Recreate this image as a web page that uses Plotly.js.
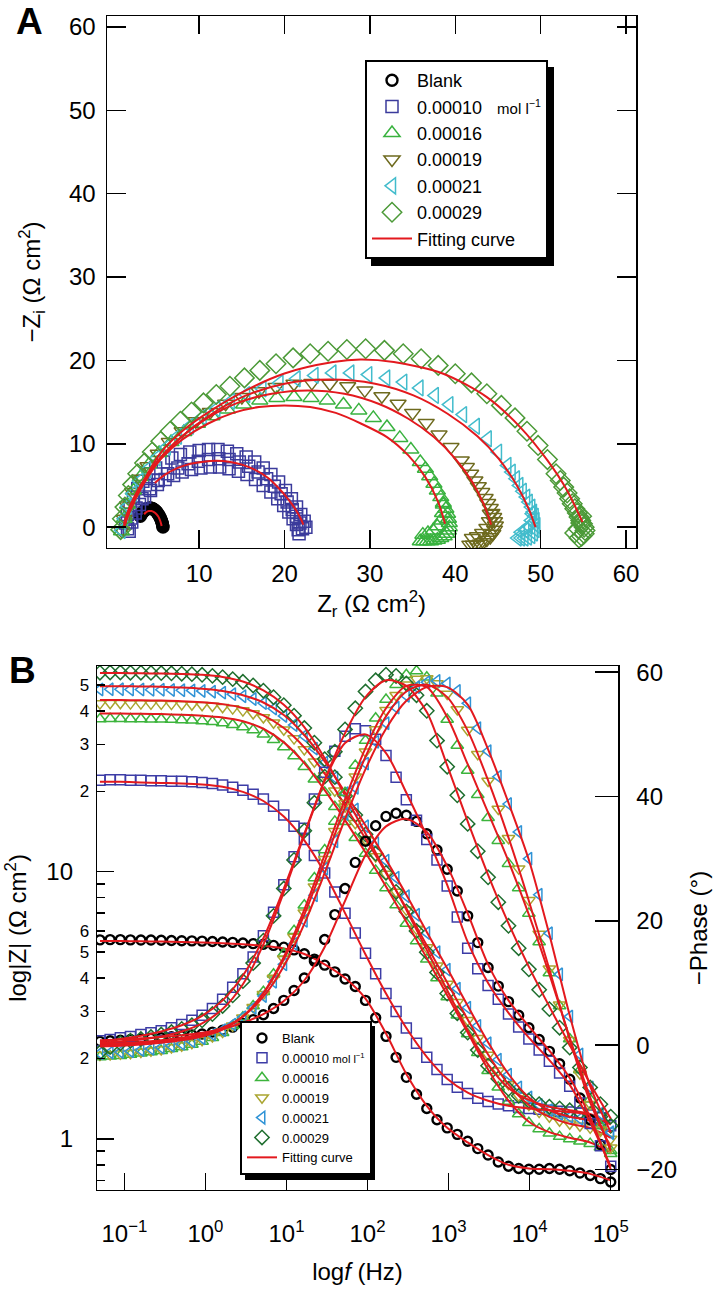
<!DOCTYPE html>
<html>
<head>
<meta charset="utf-8">
<script src="https://cdn.plot.ly/plotly-3.0.1.min.js"></script>
<style>
  html, body { margin: 0; padding: 0; background: #fff; }
  #chart { width: 723px; height: 1293px; }
</style>
</head>
<body>
<div id="chart"></div>
<script>
// ---------- series ----------
const names = ['Blank', '0.00010', '0.00016', '0.00019', '0.00021', '0.00029'];

// ---------- panel A : Nyquist (Ω cm²) ----------
const nyqBlankZr = [3.1, 3.2, 3.3, 3.4, 3.5, 3.6, 3.7, 3.8, 3.9, 4.0, 4.1, 4.2, 4.3, 4.4, 4.5, 4.6, 4.7, 4.8, 4.9, 5.0,
                    5.1, 5.2, 5.3, 5.4, 5.48, 5.55, 5.62, 5.67, 5.71, 5.74, 5.76];
const nyqBlankZi = [1.3, 1.5, 1.65, 1.8, 1.9, 2.0, 2.08, 2.15, 2.2, 2.24, 2.27, 2.28, 2.28, 2.26, 2.23, 2.18, 2.12, 2.04, 1.95, 1.84,
                    1.71, 1.56, 1.39, 1.2, 1.02, 0.84, 0.64, 0.46, 0.29, 0.13, 0.0];

const nyqNavyZr = [1.4, 1.6, 1.9, 2.3, 2.8, 3.4, 4.1, 4.9, 5.8, 6.8, 7.8, 8.9, 10.0, 11.1, 12.2, 13.3, 14.4, 15.5, 16.5, 17.5, 18.4, 19.3, 20.1, 20.8, 21.4, 21.9, 22.3, 22.5,
                   1.8, 2.1, 2.5, 3.0, 3.6, 4.3, 5.1, 6.0, 7.0, 8.0, 9.1, 10.2, 11.3, 12.4, 13.5, 14.6, 15.6, 16.6, 17.5, 18.4, 19.2, 19.9, 20.5, 21.0, 21.4, 21.6, 21.7,
                   1.6, 2.0, 2.6, 3.3, 4.2, 5.2, 6.3, 7.5, 8.7, 9.9, 11.1, 12.3, 13.5, 14.7, 15.8, 16.9, 17.9, 18.8, 19.6, 20.3, 20.9, 21.4, 21.8, 22.1];
const nyqNavyZi = [0.5, 1.5, 2.6, 3.6, 4.6, 5.5, 6.4, 7.1, 7.8, 8.3, 8.7, 9.0, 9.2, 9.3, 9.3, 9.1, 8.8, 8.4, 7.8, 7.1, 6.3, 5.4, 4.4, 3.4, 2.4, 1.5, 0.7, 0.0,
                   -0.5, 0.6, 1.7, 2.7, 3.6, 4.4, 5.1, 5.7, 6.2, 6.6, 6.9, 7.1, 7.2, 7.2, 7.0, 6.7, 6.3, 5.7, 5.0, 4.2, 3.4, 2.6, 1.8, 1.0, 0.3, -0.3, -0.8,
                   -0.2, 1.1, 2.3, 3.4, 4.6, 5.6, 6.4, 7.1, 7.6, 7.9, 8.1, 8.2, 8.1, 7.8, 7.3, 6.6, 5.8, 4.9, 4.0, 3.0, 2.1, 1.3, 0.5, -0.2];

const nyqGreenZr = [0.9, 1.2, 1.6, 2.3, 3.1, 4.1, 5.3, 6.7, 8.2, 9.8, 11.5, 13.3, 15.2, 17.1, 19.1, 21.1, 23.1, 25.0, 26.9, 28.7, 30.4, 32.0, 33.5, 34.8, 35.9,
                    36.5, 37.0, 37.5, 37.9, 38.3, 38.6, 38.9, 39.1, 39.2, 39.3, 39.3, 39.2, 39.0, 38.7, 38.3, 37.9, 37.5, 37.1, 36.7, 36.3, 35.9,
                    36.2, 36.8, 37.4, 37.9, 38.3, 38.5, 38.6];
const nyqGreenZi = [-0.5, 1.0, 2.7, 4.4, 6.0, 7.5, 8.9, 10.2, 11.4, 12.4, 13.3, 14.1, 14.7, 15.2, 15.5, 15.6, 15.5, 15.2, 14.7, 14.0, 13.1, 12.0, 10.7, 9.3, 7.8,
                    7.0, 6.1, 5.2, 4.4, 3.6, 2.9, 2.2, 1.6, 1.0, 0.5, 0.0, -0.4, -0.8, -1.1, -1.3, -1.5, -1.6, -1.7, -1.7, -1.7, -1.7,
                    -0.9, -0.7, -0.4, 0.1, 0.8, 1.7, 2.7];

const nyqOliveZr = [0.9, 1.2, 1.6, 2.2, 3.0, 4.0, 5.2, 6.5, 8.0, 9.6, 11.3, 13.1, 15.0, 17.0, 19.0, 21.1, 23.2, 25.3, 27.4, 29.4, 31.4, 33.3, 35.0, 36.6, 38.1, 39.5, 40.7,
                    41.3, 41.8, 42.3, 42.7, 43.1, 43.5, 43.8, 44.1, 44.3, 44.5, 44.6, 44.7, 44.6, 44.4, 44.1, 43.7, 43.3, 42.9, 42.5, 42.1, 41.7,
                    42.0, 42.6, 43.2, 43.7, 44.0, 44.1];
const nyqOliveZi = [-0.4, 1.0, 2.6, 4.2, 5.8, 7.3, 8.8, 10.2, 11.5, 12.7, 13.8, 14.8, 15.6, 16.3, 16.8, 17.2, 17.3, 17.2, 16.9, 16.4, 15.7, 14.8, 13.7, 12.5, 11.1, 9.6, 8.0,
                    7.2, 6.4, 5.6, 4.9, 4.2, 3.5, 2.9, 2.3, 1.7, 1.2, 0.7, 0.2, -0.3, -0.8, -1.2, -1.5, -1.8, -2.0, -2.1, -2.1, -2.1,
                    -1.3, -1.1, -0.7, -0.1, 0.7, 1.6];

const nyqCyanZr = [0.9, 1.2, 1.6, 2.2, 3.0, 3.9, 5.0, 6.2, 7.5, 8.9, 10.4, 12.0, 13.7, 15.5, 17.4, 19.4, 21.4, 23.5, 25.6, 27.7, 29.8, 31.9, 33.9, 35.8, 37.6, 39.3, 40.9, 42.4, 43.8, 45.0, 46.1,
                   46.6, 47.1, 47.5, 47.9, 48.3, 48.6, 48.9, 49.1, 49.3, 49.4, 49.5, 49.4, 49.2, 48.9, 48.5, 48.1, 47.7, 47.3,
                   47.7, 48.2, 48.6, 48.9, 49.0];
const nyqCyanZi = [-0.4, 1.0, 2.5, 4.0, 5.5, 6.9, 8.3, 9.6, 10.9, 12.1, 13.2, 14.2, 15.1, 15.9, 16.6, 17.3, 17.8, 18.2, 18.5, 18.5, 18.3, 17.9, 17.4, 16.7, 15.8, 14.7, 13.5, 12.1, 10.6, 9.0, 7.4,
                   6.6, 5.8, 5.0, 4.3, 3.6, 3.0, 2.4, 1.8, 1.3, 0.8, 0.2, -0.3, -0.7, -1.0, -1.2, -1.3, -1.3, -1.3,
                   -0.6, -0.4, 0.1, 0.8, 1.6];

const nyqDkGreenZr = [0.8, 1.0, 1.3, 1.7, 2.2, 2.8, 3.6, 4.5, 5.5, 6.6, 7.8, 9.1, 10.5, 12.0, 13.6, 15.3, 17.1, 19.0, 21.0, 23.0, 25.1, 27.3, 29.5, 31.7, 33.9, 36.0,
                      38.0, 40.0, 41.9, 43.7, 45.4, 47.0, 48.4, 49.7, 50.8, 51.8, 52.3, 52.7, 53.1, 53.4, 53.7, 54.0, 54.3, 54.5, 54.7, 54.9, 55.1, 55.2, 55.1, 54.8, 54.5,
                      54.0, 54.4, 54.7, 54.8];
const nyqDkGreenZi = [-0.3, 1.0, 2.4, 3.8, 5.1, 6.4, 7.7, 9.0, 10.3, 11.5, 12.7, 13.8, 14.9, 15.9, 16.9, 17.9, 18.8, 19.6, 20.3, 20.8, 21.1, 21.3, 21.4, 21.2, 20.8, 20.2,
                      19.4, 18.4, 17.3, 16.0, 14.6, 13.1, 11.5, 9.8, 8.1, 6.4, 5.6, 4.8, 4.1, 3.4, 2.8, 2.2, 1.7, 1.2, 0.8, 0.4, 0.0, -0.4, -0.8, -1.1, -1.3,
                      -0.7, -0.2, 0.5, 1.3];

// fitting curves, panel A
const fitNyqBlankZr = [3.55, 3.8, 4.1, 4.4, 4.7, 5.0, 5.25, 5.45, 5.6];
const fitNyqBlankZi = [1.55, 1.8, 1.93, 1.93, 1.8, 1.55, 1.2, 0.7, 0.15];
const fitNyqNavyZr = [4.8, 6.0, 7.5, 9.0, 10.5, 12.0, 13.5, 15.0, 16.5, 18.0, 19.3, 20.4, 21.3, 21.9, 22.2];
const fitNyqNavyZi = [5.3, 6.3, 7.1, 7.6, 7.85, 7.95, 7.85, 7.5, 6.9, 5.95, 4.7, 3.4, 2.1, 1.0, 0.3];
const fitNyqGreenZr = [1.2, 2.0, 3.5, 5.5, 8.0, 11.0, 14.0, 17.0, 20.0, 23.0, 26.0, 29.0, 32.0, 34.5, 36.5, 38.0, 38.8];
const fitNyqGreenZi = [0.5, 2.8, 5.6, 8.2, 10.5, 12.4, 13.7, 14.4, 14.6, 14.4, 13.7, 12.4, 10.8, 8.6, 6.0, 3.0, 0.4];
const fitNyqOliveZr = [1.2, 2.0, 3.5, 5.5, 8.0, 11.0, 14.5, 18.5, 22.7, 27.0, 31.0, 34.5, 37.5, 40.0, 42.0, 43.4, 44.2];
const fitNyqOliveZi = [0.3, 2.6, 5.5, 8.4, 10.9, 13.1, 14.9, 16.0, 16.4, 16.0, 14.8, 13.0, 10.8, 8.2, 5.4, 2.6, 0.3];
const fitNyqCyanZr = [1.2, 2.0, 3.5, 5.5, 8.0, 11.5, 15.5, 20.0, 25.3, 30.6, 35.1, 39.1, 42.6, 45.1, 47.1, 48.6, 49.4];
const fitNyqCyanZi = [0.0, 2.2, 5.2, 8.2, 10.9, 13.6, 15.8, 17.2, 17.7, 17.2, 15.8, 13.6, 10.9, 8.2, 5.2, 2.2, 0.0];
const fitNyqDkGreenZr = [1.2, 2.0, 3.1, 5.4, 8.6, 14.0, 19.9, 25.7, 28.9, 32.8, 38.6, 43.7, 47.6, 50.8, 53.1, 54.9];
const fitNyqDkGreenZi = [0.2, 2.6, 4.8, 8.8, 12.0, 15.6, 18.4, 19.8, 20.1, 19.8, 18.4, 15.6, 12.0, 8.0, 4.4, 0.6];

// ---------- panel B : Bode ----------
const freq = [0.05, 0.0668, 0.0893, 0.119, 0.160, 0.213, 0.285, 0.381, 0.510, 0.681, 0.910, 1.22, 1.63, 2.17, 2.90, 3.88, 5.19, 6.93, 9.27, 12.4,
              16.6, 22.1, 29.6, 39.5, 52.8, 70.6, 94.4, 126, 169, 225, 301, 402, 538, 719, 961, 1280, 1720, 2290, 3070, 4100,
              5480, 7320, 9780, 13100, 17500, 23400, 31200, 41700, 55800, 74600, 100000];

const magBlank = [5.56, 5.57, 5.57, 5.56, 5.55, 5.55, 5.54, 5.53, 5.52, 5.51, 5.50, 5.48, 5.46, 5.44, 5.41, 5.38, 5.35, 5.30, 5.22, 5.10,
                  4.93, 4.71, 4.47, 4.22, 3.97, 3.72, 3.30, 2.84, 2.42, 2.02, 1.70, 1.47, 1.30, 1.18, 1.10, 1.04, 0.98, 0.92, 0.87, 0.82,
                  0.79, 0.775, 0.77, 0.77, 0.775, 0.77, 0.76, 0.745, 0.73, 0.71, 0.69];
const magNavy = [22.0, 22.1, 22.1, 22.0, 22.0, 21.9, 21.9, 21.8, 21.8, 21.7, 21.6, 21.4, 21.1, 20.7, 20.2, 19.5, 18.7, 17.6, 16.3, 14.8,
                 13.2, 11.5, 9.9, 8.4, 7.0, 5.9, 4.95, 4.15, 3.5, 3.0, 2.6, 2.28, 2.02, 1.82, 1.67, 1.56, 1.48, 1.42, 1.38, 1.35,
                 1.33, 1.31, 1.30, 1.29, 1.28, 1.27, 1.26, 1.25, 1.23, 1.20, 1.12];
const magGreen = [37.3, 37.4, 37.4, 37.3, 37.3, 37.2, 37.2, 37.1, 37.0, 36.9, 36.7, 36.4, 36.0, 35.5, 34.8, 33.9, 32.7, 31.2, 29.3, 27.1,
                  24.7, 22.2, 19.8, 17.5, 15.4, 13.4, 11.7, 10.1, 8.7, 7.5, 6.4, 5.5, 4.7, 4.0, 3.4, 2.9, 2.47, 2.1, 1.8, 1.56,
                  1.38, 1.24, 1.15, 1.09, 1.05, 1.02, 1.0, 0.98, 0.96, 0.93, 0.88];
const magOlive = [42.6, 42.7, 42.7, 42.6, 42.6, 42.5, 42.5, 42.4, 42.3, 42.2, 42.0, 41.7, 41.3, 40.8, 40.1, 39.1, 37.8, 36.1, 34.0, 31.5,
                  28.7, 25.8, 22.9, 20.1, 17.5, 15.2, 13.2, 11.4, 9.8, 8.4, 7.2, 6.1, 5.2, 4.45, 3.8, 3.25, 2.78, 2.38, 2.06, 1.8,
                  1.6, 1.45, 1.34, 1.26, 1.21, 1.17, 1.14, 1.12, 1.10, 1.07, 1.0];
const magCyan = [48.1, 48.2, 48.2, 48.1, 48.1, 48.0, 48.0, 47.9, 47.8, 47.7, 47.5, 47.2, 46.8, 46.2, 45.4, 44.3, 42.8, 40.8, 38.3, 35.4,
                 32.2, 28.9, 25.6, 22.5, 19.7, 17.1, 14.8, 12.8, 11.0, 9.5, 8.1, 6.9, 5.9, 5.0, 4.3, 3.65, 3.1, 2.65, 2.28, 1.98,
                 1.74, 1.56, 1.43, 1.34, 1.28, 1.24, 1.21, 1.19, 1.17, 1.13, 1.05];
const magDkGreen = [55.6, 55.7, 55.7, 55.6, 55.6, 55.5, 55.4, 55.3, 55.1, 54.9, 54.6, 54.1, 53.5, 52.6, 51.4, 49.8, 47.6, 45.0, 42.0, 38.4,
                    34.5, 30.4, 26.4, 22.6, 19.2, 16.3, 13.8, 11.7, 9.9, 8.4, 7.1, 6.0, 5.0, 4.2, 3.5, 2.95, 2.5, 2.15, 1.88, 1.68,
                    1.54, 1.45, 1.39, 1.35, 1.32, 1.30, 1.28, 1.26, 1.24, 1.21, 1.12];

const phaseBlank = [0.6, 0.7, 0.8, 0.9, 1.0, 1.1, 1.2, 1.35, 1.5, 1.65, 1.8, 2.1, 2.4, 2.9, 3.5, 4.1, 4.9, 5.9, 7.2, 8.8,
                    10.8, 13.5, 17.0, 21.0, 25.2, 29.4, 32.8, 35.3, 36.8, 37.3, 37.0, 36.0, 34.0, 31.4, 28.3, 24.8, 20.8, 16.5, 12.5, 9.5,
                    7.0, 4.8, 2.8, 0.9, -1.0, -3.0, -5.5, -8.5, -12.0, -16.0, -20.0];
const phaseNavy = [0.7, 0.9, 1.2, 1.4, 1.7, 2.0, 2.3, 2.8, 3.3, 4.0, 4.8, 5.9, 7.4, 9.3, 11.5, 14.2, 17.6, 21.4, 25.8, 30.3,
                   34.9, 39.6, 43.9, 47.3, 49.7, 50.9, 50.6, 49.2, 46.6, 43.1, 39.5, 36.2, 33.1, 29.8, 25.6, 20.6, 15.6, 12.3, 9.6, 7.4,
                   5.0, 2.9, 1.0, -0.8, -2.6, -4.5, -6.6, -9.3, -12.6, -16.2, -19.5];
const phaseGreen = [-1.9, -1.8, -1.7, -1.5, -1.3, -1.1, -0.9, -0.6, -0.3, 0.1, 0.6, 1.2, 2.0, 3.1, 4.5, 6.3, 8.6, 11.4, 14.7, 18.4,
                    22.5, 26.9, 31.4, 36.0, 40.6, 45.0, 49.0, 52.6, 55.6, 58.0, 59.6, 60.2, 59.2, 56.6, 52.4, 48.2, 44.2, 40.3, 36.6, 32.9,
                    29.2, 25.3, 21.2, 16.6, 11.6, 6.3, 1.0, -4.0, -8.7, -13.0, -17.0];
const phaseOlive = [-1.6, -1.5, -1.4, -1.3, -1.1, -0.9, -0.7, -0.4, -0.1, 0.3, 0.8, 1.4, 2.1, 3.1, 4.4, 6.1, 8.2, 10.8, 13.9, 17.4,
                    21.3, 25.5, 29.9, 34.4, 38.9, 43.2, 47.2, 50.8, 53.9, 56.3, 58.0, 58.9, 59.0, 58.2, 56.5, 54.0, 50.7, 46.8, 42.5, 38.0,
                    33.3, 28.4, 23.3, 17.9, 12.3, 6.5, 0.8, -4.6, -9.5, -13.6, -16.5];
const phaseCyan = [-1.3, -1.2, -1.1, -1.0, -0.8, -0.6, -0.4, -0.1, 0.2, 0.6, 1.1, 1.7, 2.4, 3.3, 4.5, 6.0, 7.9, 10.2, 13.0, 16.3,
                   20.0, 24.1, 28.4, 32.8, 37.2, 41.4, 45.3, 48.8, 51.8, 54.3, 56.2, 57.6, 58.4, 58.6, 58.2, 57.0, 55.0, 51.0, 47.3, 43.2,
                   38.8, 34.3, 30.0, 24.2, 18.0, 11.4, 4.6, -1.5, -6.8, -11.0, -14.0];
const phaseDkGreen = [-1.2, -0.3, 0.3, 0.7, 1.0, 1.3, 1.7, 2.1, 2.6, 3.2, 4.0, 5.0, 6.3, 8.0, 10.3, 13.2, 16.8, 20.8, 25.2, 29.8,
                      34.5, 39.0, 43.2, 47.2, 50.8, 54.2, 56.9, 58.7, 59.6, 59.4, 58.2, 56.3, 53.8, 49.0, 44.8, 40.2, 35.6, 31.2, 27.0, 23.0,
                      19.2, 15.6, 12.2, 8.9, 5.8, 2.8, -0.4, -3.6, -6.8, -9.5, -11.5];

// fitting curves, panel B
const fitFreq = [0.05, 0.0893, 0.160, 0.285, 0.510, 0.910, 1.63, 2.90, 5.19, 9.27, 16.6, 29.6, 52.8, 94.4, 169, 301, 538, 961, 1720,
                 3070, 5480, 9780, 17500, 31200, 55800, 100000];
const fitMagBlank = [5.50, 5.50, 5.49, 5.48, 5.46, 5.44, 5.40, 5.35, 5.28, 5.16, 4.92, 4.50, 4.00, 3.35, 2.48, 1.75, 1.33, 1.10, 0.97, 0.87, 0.80, 0.775, 0.77, 0.76, 0.74, 0.70];
const fitMagNavy = [21.7, 21.7, 21.6, 21.5, 21.4, 21.2, 20.8, 19.9, 18.4, 16.1, 13.1, 9.9, 7.0, 4.9, 3.5, 2.6, 2.03, 1.68, 1.49, 1.39, 1.33, 1.30, 1.28, 1.26, 1.23, 1.14];
const fitMagGreen = [39.1, 39.1, 39.0, 38.9, 38.7, 38.4, 37.8, 36.6, 34.3, 30.5, 25.5, 20.2, 15.6, 11.8, 8.8, 6.5, 4.75, 3.45, 2.5, 1.82, 1.39, 1.16, 1.06, 1.01, 0.97, 0.89];
const fitMagOlive = [43.9, 43.9, 43.8, 43.7, 43.5, 43.1, 42.4, 41.0, 38.5, 34.5, 29.2, 23.3, 17.7, 13.3, 9.9, 7.3, 5.3, 3.85, 2.8, 2.07, 1.6, 1.34, 1.21, 1.14, 1.1, 1.01];
const fitMagCyan = [49.5, 49.5, 49.4, 49.2, 48.9, 48.4, 47.5, 45.8, 43.0, 38.6, 32.5, 25.9, 19.8, 14.9, 11.1, 8.2, 5.95, 4.35, 3.15, 2.3, 1.75, 1.43, 1.28, 1.21, 1.17, 1.06];
const fitMagDkGreen = [55.4, 55.4, 55.3, 55.2, 55.0, 54.6, 53.6, 51.5, 47.7, 42.2, 34.8, 26.6, 19.3, 13.9, 10.0, 7.2, 5.1, 3.6, 2.55, 1.9, 1.55, 1.4, 1.32, 1.28, 1.24, 1.13];
const fitPhaseBlank = [0.8, 0.9, 1.1, 1.3, 1.6, 2.0, 2.6, 3.6, 5.0, 7.1, 10.4, 15.8, 23.2, 30.6, 35.2, 36.4, 34.3, 28.8, 21.2, 13.0, 7.2, 3.0, -0.9, -5.3, -11.6, -20.0];
const fitPhaseNavy = [0.6, 1.0, 1.5, 2.2, 3.2, 4.7, 7.2, 11.2, 17.2, 25.2, 34.0, 42.6, 48.6, 50.0, 47.0, 40.6, 33.6, 25.8, 16.6, 10.0, 5.2, 1.2, -2.4, -6.4, -12.4, -19.5];
const fitPhaseGreen = [-0.2, -0.1, 0.1, 0.4, 0.8, 1.4, 2.5, 4.6, 8.4, 14.2, 21.8, 30.6, 39.6, 47.8, 54.2, 57.8, 57.6, 52.8, 45.2, 37.4, 29.6, 21.0, 11.4, 1.2, -8.4, -17.0];
const fitPhaseOlive = [0.0, 0.1, 0.3, 0.6, 1.0, 1.6, 2.6, 4.6, 8.3, 13.8, 21.0, 29.5, 38.3, 46.4, 52.9, 56.9, 58.0, 56.0, 50.6, 42.6, 33.4, 23.2, 12.2, 0.9, -9.2, -16.5];
const fitPhaseCyan = [0.2, 0.3, 0.5, 0.8, 1.2, 1.8, 2.8, 4.6, 7.8, 12.7, 19.5, 27.7, 36.4, 44.4, 50.9, 55.4, 57.6, 57.6, 54.8, 47.6, 39.0, 29.8, 17.8, 4.8, -6.6, -14.0];
const fitPhaseDkGreen = [0.4, 0.6, 0.9, 1.4, 2.2, 3.5, 5.8, 9.8, 16.2, 24.6, 33.8, 42.6, 50.2, 56.0, 58.7, 57.8, 53.6, 45.0, 36.0, 27.4, 19.6, 12.6, 6.2, 0.0, -6.2, -11.8];

// tick labels of the frequency axis
const freqTickVals = [0.1, 1, 10, 100, 1000, 10000, 100000];
const freqTickText = ['10<sup>−1</sup>', '10<sup>0</sup>', '10<sup>1</sup>', '10<sup>2</sup>', '10<sup>3</sup>', '10<sup>4</sup>', '10<sup>5</sup>'];

// ---------- styling ----------
const FONT = 'Arial, "Liberation Sans", Helvetica, sans-serif';
const RED = '#e3191e';
const symbols = ['circle-open', 'square-open', 'triangle-up-open', 'triangle-down-open', 'triangle-left-open', 'diamond-open'];
const colorsA = ['#000000', '#3b3b9c', '#39b23f', '#6e6a1e', '#42bccc', '#4c9a38'];
const colorsB = ['#000000', '#3c3ca6', '#3cb43c', '#aaa530', '#2f93d6', '#1e6e2e'];
const sizesA = [11, 12, 14, 14, 14, 15];
const sizesB = [9, 10, 11, 11, 11, 11];
const unitA = '\u00a0\u00a0\u00a0<span style="font-size:15px">mol l<sup>−1</sup></span>';
const unitB = ' <span style="font-size:11px">mol l<sup>−1</sup></span>';

function markerTrace(x, y, i, xa, ya, leg, show) {
  const isA = leg === 'legend';
  const c = isA ? colorsA[i] : colorsB[i];
  return {
    type: 'scatter', mode: 'markers', x: x, y: y, xaxis: xa, yaxis: ya,
    name: names[i] + (i === 1 ? (isA ? unitA : unitB) : ''),
    legend: leg, showlegend: show, hoverinfo: 'skip',
    marker: { symbol: symbols[i], size: isA ? sizesA[i] : sizesB[i], color: c,
              line: { color: c, width: i === 0 ? 2.4 : 1.5 } }
  };
}
function fitTrace(x, y, xa, ya, leg, show) {
  return {
    type: 'scatter', mode: 'lines', x: x, y: y, xaxis: xa, yaxis: ya,
    name: 'Fitting curve', legend: leg, showlegend: show, hoverinfo: 'skip',
    line: { color: RED, width: 2, shape: 'spline', smoothing: 0.8 }
  };
}

const traces = [];
// panel A
const nyq = [[nyqBlankZr, nyqBlankZi], [nyqNavyZr, nyqNavyZi], [nyqGreenZr, nyqGreenZi],
             [nyqOliveZr, nyqOliveZi], [nyqCyanZr, nyqCyanZi], [nyqDkGreenZr, nyqDkGreenZi]];
nyq.forEach((d, i) => traces.push(markerTrace(d[0], d[1], i, 'x', 'y', 'legend', true)));
const nyqFit = [[fitNyqBlankZr, fitNyqBlankZi], [fitNyqNavyZr, fitNyqNavyZi], [fitNyqGreenZr, fitNyqGreenZi],
                [fitNyqOliveZr, fitNyqOliveZi], [fitNyqCyanZr, fitNyqCyanZi], [fitNyqDkGreenZr, fitNyqDkGreenZi]];
nyqFit.forEach((d, i) => traces.push(fitTrace(d[0], d[1], 'x', 'y', 'legend', i === 0)));

// panel B
const mags = [magBlank, magNavy, magGreen, magOlive, magCyan, magDkGreen];
const phases = [phaseBlank, phaseNavy, phaseGreen, phaseOlive, phaseCyan, phaseDkGreen];
mags.forEach((m, i) => traces.push(markerTrace(freq, m, i, 'x2', 'y2', 'legend2', true)));
phases.forEach((p, i) => traces.push(markerTrace(freq, p, i, 'x2', 'y3', 'legend2', false)));
const fitMags = [fitMagBlank, fitMagNavy, fitMagGreen, fitMagOlive, fitMagCyan, fitMagDkGreen];
const fitPhases = [fitPhaseBlank, fitPhaseNavy, fitPhaseGreen, fitPhaseOlive, fitPhaseCyan, fitPhaseDkGreen];
fitMags.forEach((m, i) => traces.push(fitTrace(fitFreq, m, 'x2', 'y2', 'legend2', i === 0)));
fitPhases.forEach((p) => traces.push(fitTrace(fitFreq, p, 'x2', 'y3', 'legend2', false)));
// carrier for the big |Z| tick labels axis
traces.push({ type: 'scatter', mode: 'markers', x: [], y: [], xaxis: 'x2', yaxis: 'y4', showlegend: false, hoverinfo: 'skip' });

const axis = {
  showline: true, linecolor: '#000', linewidth: 1.5, showgrid: false, zeroline: false,
  ticks: 'inside', tickcolor: '#000', tickwidth: 1.5,
  tickfont: { family: FONT, size: 24, color: '#000' }
};
const titleFont = { family: FONT, size: 24, color: '#000' };

const layout = {
  width: 723, height: 1293,
  margin: { l: 0, r: 0, t: 0, b: 0 },
  paper_bgcolor: '#fff', plot_bgcolor: '#fff',
  font: { family: FONT, color: '#000' },
  xaxis: Object.assign({}, axis, {
    domain: [0.148, 0.880], anchor: 'y', range: [-0.8, 61.2],
    tickmode: 'array', tickvals: [10, 20, 30, 40, 50, 60], ticklen: 18, mirror: 'ticks',
    ticklabelstandoff: 4,
    title: { text: 'Z<sub>r</sub> (Ω cm<sup>2</sup>)', font: titleFont, standoff: 8 }
  }),
  yaxis: Object.assign({}, axis, {
    domain: [0.5762, 0.9876], anchor: 'x', range: [-2.5, 61.3],
    tickmode: 'array', tickvals: [0, 10, 20, 30, 40, 50, 60], ticklen: 19, mirror: 'ticks',
    ticklabelstandoff: 5,
    title: { text: '−Z<sub>i</sub> (Ω cm<sup>2</sup>)', font: titleFont, standoff: 21 }
  }),
  xaxis2: Object.assign({}, axis, {
    domain: [0.1342, 0.8548], anchor: 'y2', type: 'log', range: [-1.337, 5.09],
    tickmode: 'array', tickvals: freqTickVals, ticktext: freqTickText,
    ticklen: 17, mirror: true, ticklabelstandoff: 22,
    title: { text: 'log<i>f</i> (Hz)', font: titleFont, standoff: 17 }
  }),
  yaxis2: Object.assign({}, axis, {
    domain: [0.0797, 0.4849], anchor: 'x2', type: 'log', range: [-0.191, 1.770],
    tickmode: 'array', tickvals: [2, 3, 4, 5, 6, 20, 30, 40, 50],
    ticktext: ['2', '3', '4', '5', '6', '2', '3', '4', '5'],
    ticklen: 8, ticklabelstandoff: 3,
    tickfont: { family: FONT, size: 17, color: '#000' },
    minor: { tickmode: 'array', tickvals: [0.7, 0.8, 0.9, 7, 8, 9], ticks: 'inside', ticklen: 8,
             tickcolor: '#000', tickwidth: 1.5, showgrid: false }
  }),
  yaxis4: Object.assign({}, axis, {
    overlaying: 'y2', anchor: 'x2', side: 'left', type: 'log', range: [-0.191, 1.770],
    tickmode: 'array', tickvals: [1, 10], ticktext: ['1', '10'], ticklen: 17, showline: false,
    ticklabelstandoff: 23,
    title: { text: 'log|Z| (Ω cm<sup>2</sup>)', font: titleFont, standoff: 12 }
  }),
  yaxis3: Object.assign({}, axis, {
    overlaying: 'y2', anchor: 'x2', side: 'right', range: [-23.3, 61.0],
    tickmode: 'array', tickvals: [-20, 0, 20, 40, 60], ticklen: 23, ticklabelstandoff: 12,
    title: { text: '−Phase (°)', font: titleFont, standoff: 14 }
  }),
  legend: {
    x: 365 / 723, y: 1 - 60 / 1293, xanchor: 'left', yanchor: 'top',
    bgcolor: '#fff', bordercolor: '#000', borderwidth: 2,
    font: { family: FONT, size: 18, color: '#000' }, itemwidth: 40, tracegroupgap: 0
  },
  legend2: {
    x: 240 / 723, y: 1 - 1021 / 1293, xanchor: 'left', yanchor: 'top',
    bgcolor: '#fff', bordercolor: '#000', borderwidth: 2,
    font: { family: FONT, size: 13, color: '#000' }, itemwidth: 30, tracegroupgap: 0
  },
  shapes: [
    { type: 'rect', xref: 'paper', yref: 'paper', layer: 'above',
      x0: 371 / 723, x1: 554 / 723, y0: 1 - 266 / 1293, y1: 1 - 67 / 1293,
      fillcolor: '#000', line: { width: 0 } },
    { type: 'rect', xref: 'paper', yref: 'paper', layer: 'above',
      x0: 245 / 723, x1: 375 / 723, y0: 1 - 1180 / 1293, y1: 1 - 1026 / 1293,
      fillcolor: '#000', line: { width: 0 } }
  ],
  annotations: [
    { text: '<b>A</b>', xref: 'paper', yref: 'paper', x: 29 / 723, y: 1 - 22 / 1293,
      xanchor: 'center', yanchor: 'middle',
      showarrow: false, font: { family: FONT, size: 37, color: '#000' } },
    { text: '<b>B</b>', xref: 'paper', yref: 'paper', x: 22 / 723, y: 1 - 670 / 1293,
      xanchor: 'center', yanchor: 'middle',
      showarrow: false, font: { family: FONT, size: 37, color: '#000' } }
  ]
};

Plotly.newPlot('chart', traces, layout, { displayModeBar: false, staticPlot: true });
</script>
</body>
</html>
